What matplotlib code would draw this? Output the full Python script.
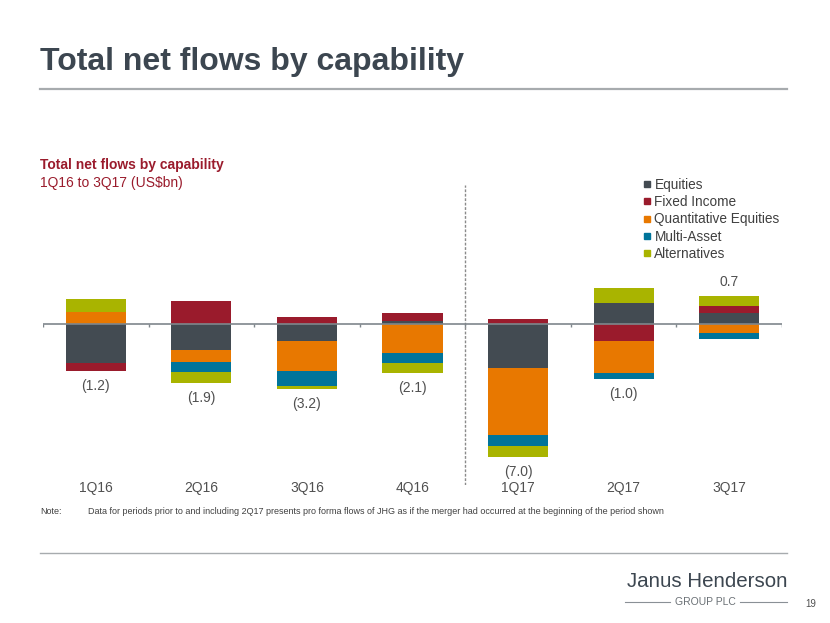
import matplotlib
matplotlib.use('Agg')
import matplotlib.pyplot as plt
import matplotlib.transforms as mtransforms
from matplotlib.lines import Line2D
import numpy as np

plt.rcParams['font.family'] = ['Liberation Sans', 'DejaVu Sans']

# data (US$bn)
quarters = ['1Q16', '2Q16', '3Q16', '4Q16', '1Q17', '2Q17', '3Q17']
equities = [-2.11, -1.42, -0.91, 0.16, -2.39, 1.16, 0.60]
fixed_income = [-0.45, 1.27, 0.37, 0.42, 0.26, -0.91, 0.38]
quant_equities = [0.67, -0.67, -1.67, -1.60, -3.68, -1.78, -0.51]
multi_asset = [0.0, -0.51, -0.80, -0.51, -0.58, -0.31, -0.31]
alternatives = [0.69, -0.60, -0.18, -0.58, -0.60, 0.79, 0.53]
totals = [-1.2, -1.9, -3.2, -2.1, -7.0, -1.0, 0.7]

names = ['Equities', 'Fixed Income', 'Quantitative Equities', 'Multi-Asset', 'Alternatives']
colors = ['#434b52', '#9a1b2c', '#e87800', '#00749a', '#a9b400']
series = [equities, fixed_income, quant_equities, multi_asset, alternatives]

W, H = 830, 623
fig = plt.figure(figsize=(W / 100, H / 100), dpi=100)

def fx(px):
    return px / W

def fy(py):
    return 1 - py / H

# chart area
ax = fig.add_axes([fx(43), fy(485), fx(782) - fx(43), fy(185) - fy(485)])
x = np.arange(len(quarters))
pos = np.zeros(len(quarters))
neg = np.zeros(len(quarters))
for vals, c in zip(series, colors):
    v = np.array(vals)
    base = np.where(v >= 0, pos, neg)
    ax.bar(x, v, 0.57, bottom=base, color=c, zorder=2)
    pos += np.where(v >= 0, v, 0)
    neg += np.where(v < 0, v, 0)

ax.set_xlim(-0.5, len(quarters) - 0.5)
ax.set_ylim(-8.8, 7.6)
ax.axis('off')
ax.axhline(0, color='#7f868c', lw=1.2, zorder=3)
ax.vlines(np.arange(len(quarters) + 1) - 0.5, -0.17, 0, color='#7f868c', lw=1, zorder=3)
ax.axvline(3.5, color='#8a8a8a', lw=1, linestyle=(0, (2, 1.2)), zorder=1)

for i, t in enumerate(totals):
    if t < 0:
        ax.annotate(f'({abs(t):.1f})', (i, neg[i]), xytext=(0, -10.8), textcoords='offset points',
                    ha='center', va='center', fontsize=10, color='#505050')
    else:
        ax.annotate(f'{t:.1f}', (i, pos[i]), xytext=(0, 10.4), textcoords='offset points',
                    ha='center', va='center', fontsize=10, color='#505050')

trans = mtransforms.blended_transform_factory(ax.transData, ax.transAxes)
for i, q in enumerate(quarters):
    ax.text(i, -0.01, q, transform=trans, ha='center', va='center', fontsize=10, color='#505050')

# legend
handles = [Line2D([], [], marker='s', ls='none', color=c, markersize=5) for c in colors]
fig.legend(handles, names, loc='upper left', bbox_to_anchor=(fx(636), fy(171)), frameon=False,
           fontsize=9.8, handlelength=0.6, handletextpad=0.25, labelspacing=0.24,
           borderpad=0, labelcolor='#404040')

# page furniture
fig.text(fx(40), fy(62), 'Total net flows by capability', fontsize=23, fontweight='bold',
         color='#3c4650', va='center')
fig.add_artist(Line2D([fx(40), fx(787)], [fy(89), fy(89)], color='#a7abae', lw=1.6))
fig.text(fx(40), fy(165), 'Total net flows by capability', fontsize=10, fontweight='bold',
         color='#9a1b2c', va='center')
fig.text(fx(40), fy(183), '1Q16 to 3Q17 (US$bn)', fontsize=10, color='#9a1b2c', va='center')

fig.text(fx(40), fy(512), 'Note:', fontsize=6.5, color='#404040', va='center')
fig.text(fx(88), fy(512), 'Data for periods prior to and including 2Q17 presents pro forma flows of JHG '
         'as if the merger had occurred at the beginning of the period shown',
         fontsize=6.5, color='#404040', va='center')
fig.add_artist(Line2D([fx(40), fx(787)], [fy(553), fy(553)], color='#a7abae', lw=1))

fig.text(fx(787), fy(587), 'Janus Henderson', fontsize=14.8, color='#3c4650', va='baseline', ha='right')
fig.text(fx(705), fy(602), 'GROUP PLC', fontsize=7.5, color='#6a7075', va='center', ha='center')
fig.add_artist(Line2D([fx(625), fx(670)], [fy(602), fy(602)], color='#8a9096', lw=0.8))
fig.add_artist(Line2D([fx(740), fx(787)], [fy(602), fy(602)], color='#8a9096', lw=0.8))
fig.text(fx(805), fy(604), '19', fontsize=7, color='#505050', va='center')

fig.savefig('out.png', dpi=100)
